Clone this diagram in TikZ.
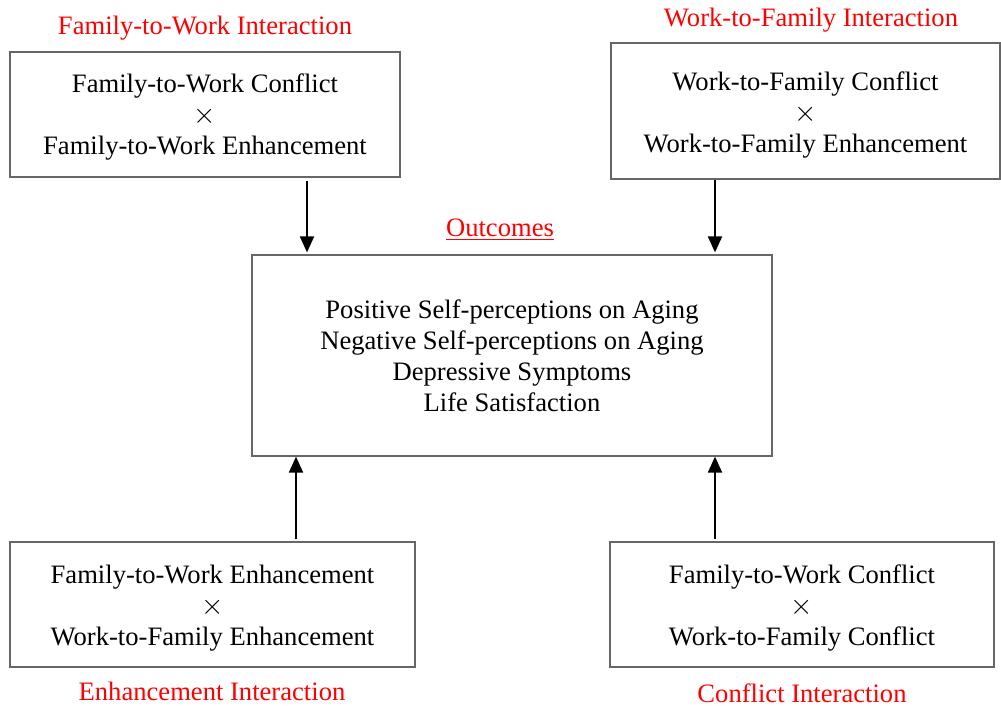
\documentclass[tikz,border=0pt]{standalone}
\usepackage{fontspec}
\setmainfont{Liberation Serif}
\usepackage{xcolor}
\usetikzlibrary{positioning, arrows.meta, calc}
\definecolor{lblred}{RGB}{255,0,0}

\begin{document}
\begin{tikzpicture}[x=0.5pt, y=-0.5pt,
    every node/.style={font=\fontsize{13.3pt}{15.5pt}\selectfont},
    box/.style={draw=black!60, line width=0.6pt, inner sep=0pt},
    txt/.style={align=center, inner sep=0pt},
    lbl/.style={text=lblred, inner sep=0pt},
    arr/.style={-{Triangle[width=7pt, length=8pt]}, line width=1pt}]
  \useasboundingbox (0,0) rectangle (1001,706);

  % predictor boxes and outcome box
  \node[box, minimum width=195pt, minimum height=62.5pt] (fwbox) at (205,114.5) {};
  \node[box, minimum width=194.5pt, minimum height=68pt] (wfbox) at (805.5,111) {};
  \node[box, minimum width=260pt, minimum height=100.5pt] (outbox) at (512,355.5) {};
  \node[box, minimum width=202.5pt, minimum height=62.5pt] (enhbox) at (212.5,604.5) {};
  \node[box, minimum width=192pt, minimum height=62.5pt] (conbox) at (802,604.5) {};

  % box texts
  \node[txt] (fwtxt) at ($(fwbox.center)+(0,3)$)
    {Family-to-Work Conflict\\$\times$\\Family-to-Work Enhancement};
  \node[txt] (wftxt) at ($(wfbox.center)+(0,4)$)
    {Work-to-Family Conflict\\$\times$\\Work-to-Family Enhancement};
  \node[txt] (outtxt) at ($(outbox.center)+(0,0.5)$)
    {Positive Self-perceptions on Aging\\Negative Self-perceptions on Aging\\Depressive Symptoms\\Life Satisfaction};
  \node[txt] (enhtxt) at ($(enhbox.center)+(0,3.5)$)
    {Family-to-Work Enhancement\\$\times$\\Work-to-Family Enhancement};
  \node[txt] (contxt) at ($(conbox.center)+(0,3.5)$)
    {Family-to-Work Conflict\\$\times$\\Work-to-Family Conflict};

  % red labels
  \node[lbl] (fwlbl) at (205,28) {Family-to-Work Interaction};
  \node[lbl] (wflbl) at (811,20) {Work-to-Family Interaction};
  \node[lbl] (outlbl) at (500,230) {\underline{Outcomes}};
  \node[lbl] (enhlbl) at (212,691) {Enhancement Interaction};
  \node[lbl] (conlbl) at (802,693) {Conflict Interaction};

  % arrows
  \coordinate (xa) at (307,0);
  \coordinate (xb) at (715,0);
  \coordinate (xc) at (296,0);
  \draw[arr, shorten <=1.5pt, shorten >=1pt] (fwbox.south -| xa) -- (outbox.north -| xa);
  \draw[arr, shorten >=1pt] (wfbox.south -| xb) -- (outbox.north -| xb);
  \draw[arr, shorten <=1pt] (enhbox.north -| xc) -- (outbox.south -| xc);
  \draw[arr, shorten <=1pt] (conbox.north -| xb) -- (outbox.south -| xb);
\end{tikzpicture}
\end{document}
